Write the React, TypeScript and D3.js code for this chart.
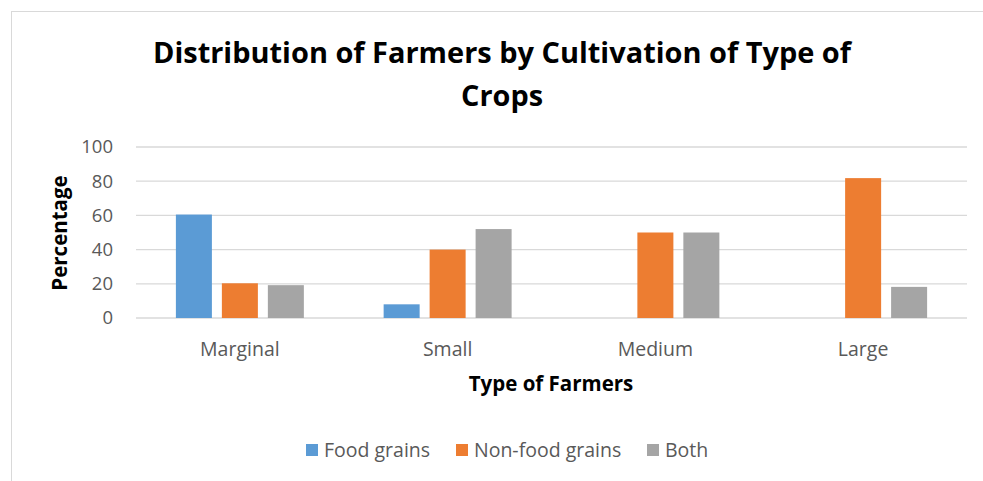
import React from 'react'
import * as d3 from 'd3'

const categories = ['Marginal', 'Small', 'Medium', 'Large']
const series = ['Food grains', 'Non-food grains', 'Both']
const foodGrains = [60.5, 8, 0, 0]
const nonFoodGrains = [20.3, 40, 50, 81.8]
const both = [19.2, 52, 50, 18.2]
const yTicks = [0, 20, 40, 60, 80, 100]
const colors = ['#5B9BD5', '#ED7D31', '#A5A5A5']

const W = 983
const H = 481
const font = '"Open Sans", "Noto Sans", sans-serif'

export default function App() {
  const values = [foodGrains, nonFoodGrains, both]
  const plot = { left: 136, right: 967, top: 147, bottom: 318 }

  const x0 = d3.scaleBand<string>()
    .domain(categories)
    .range([plot.left, plot.right])
    .paddingInner(0.384)
    .paddingOuter(0.192)
  const x1 = d3.scaleBand<string>()
    .domain(series)
    .range([0, x0.bandwidth()])
    .paddingInner(0.217)
  const y = d3.scaleLinear().domain([0, 100]).range([plot.bottom, plot.top])

  const legendX = [306, 456, 647]

  return (
    <svg width={W} height={H} style={{ position: 'absolute', left: 0, top: 0 }}>
      <rect x={0} y={0} width={W} height={H} fill="#fff" />
      <rect x={11.5} y={11.5} width={W + 20} height={H + 20} fill="#fff" stroke="#D9D9D9" />

      <text x={502} y={63} textAnchor="middle" fontFamily={font} fontWeight="bold" fontSize={29}
        textLength={698} lengthAdjust="spacingAndGlyphs" fill="#000">
        Distribution of Farmers by Cultivation of Type of
      </text>
      <text x={502} y={106} textAnchor="middle" fontFamily={font} fontWeight="bold" fontSize={29}
        textLength={82} lengthAdjust="spacingAndGlyphs" fill="#000">
        Crops
      </text>

      {yTicks.map(t => (
        <g key={t}>
          <line x1={plot.left} x2={plot.right} y1={y(t)} y2={y(t)} stroke="#D9D9D9" strokeWidth={1.3} />
          <text x={113} y={y(t)} dy="0.35em" textAnchor="end" fontFamily={font} fontSize={18.5} fill="#595959">{t}</text>
        </g>
      ))}

      {categories.map((c, i) => (
        <g key={c}>
          {series.map((s, j) => {
            const v = values[j][i]
            if (!v) return null
            return (
              <rect key={s}
                x={(x0(c) as number) + (x1(s) as number)}
                y={y(v)}
                width={x1.bandwidth()}
                height={y(0) - y(v)}
                fill={colors[j]} />
            )
          })}
          <text x={(x0(c) as number) + x0.bandwidth() / 2} y={356} textAnchor="middle"
            fontFamily={font} fontSize={19.5} fill="#595959">{c}</text>
        </g>
      ))}

      <text x={551} y={391} textAnchor="middle" fontFamily={font} fontWeight="bold" fontSize={20.5} fill="#000">
        Type of Farmers
      </text>
      <text transform={`translate(67, ${233}) rotate(-90)`} textAnchor="middle" fontFamily={font}
        fontWeight="bold" fontSize={20.5} fill="#000">
        Percentage
      </text>

      {series.map((s, j) => (
        <g key={s}>
          <rect x={legendX[j]} y={444} width={12} height={12} fill={colors[j]} />
          <text x={legendX[j] + 18} y={450} dy="0.35em" fontFamily={font} fontSize={19.5} fill="#595959">{s}</text>
        </g>
      ))}
    </svg>
  )
}
